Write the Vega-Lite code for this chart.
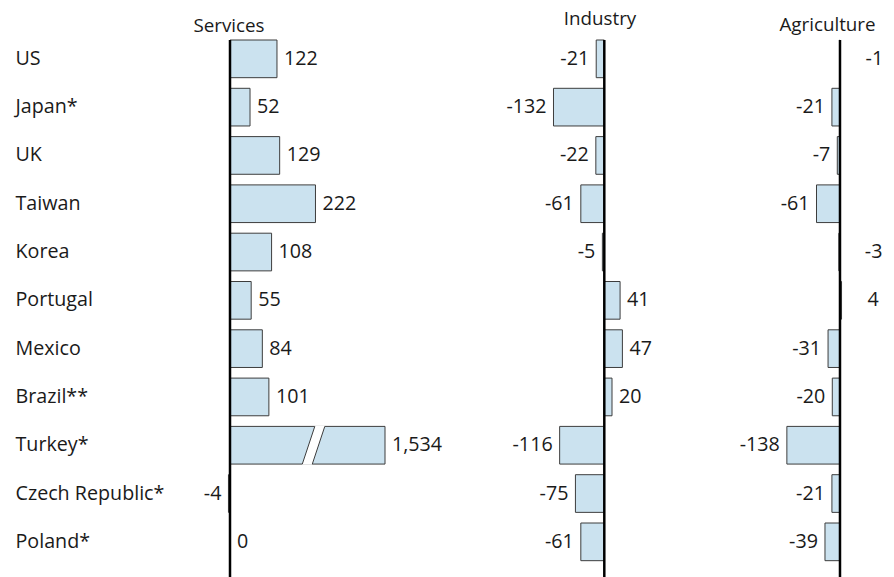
{
  "$schema": "https://vega.github.io/schema/vega-lite/v6.json",
  "padding": {"left": 15, "top": 9, "right": 0, "bottom": 0},
  "background": "white",
  "spacing": 0,
  "bounds": "flush",
  "data": {"values": [
    {"country": "US", "sector": "Services", "value": 122},
    {"country": "Japan*", "sector": "Services", "value": 52},
    {"country": "UK", "sector": "Services", "value": 129},
    {"country": "Taiwan", "sector": "Services", "value": 222},
    {"country": "Korea", "sector": "Services", "value": 108},
    {"country": "Portugal", "sector": "Services", "value": 55},
    {"country": "Mexico", "sector": "Services", "value": 84},
    {"country": "Brazil**", "sector": "Services", "value": 101},
    {"country": "Turkey*", "sector": "Services", "value": 1534},
    {"country": "Czech Republic*", "sector": "Services", "value": -4},
    {"country": "Poland*", "sector": "Services", "value": 0},
    {"country": "US", "sector": "Industry", "value": -21},
    {"country": "Japan*", "sector": "Industry", "value": -132},
    {"country": "UK", "sector": "Industry", "value": -22},
    {"country": "Taiwan", "sector": "Industry", "value": -61},
    {"country": "Korea", "sector": "Industry", "value": -5},
    {"country": "Portugal", "sector": "Industry", "value": 41},
    {"country": "Mexico", "sector": "Industry", "value": 47},
    {"country": "Brazil**", "sector": "Industry", "value": 20},
    {"country": "Turkey*", "sector": "Industry", "value": -116},
    {"country": "Czech Republic*", "sector": "Industry", "value": -75},
    {"country": "Poland*", "sector": "Industry", "value": -61},
    {"country": "US", "sector": "Agriculture", "value": -1},
    {"country": "Japan*", "sector": "Agriculture", "value": -21},
    {"country": "UK", "sector": "Agriculture", "value": -7},
    {"country": "Taiwan", "sector": "Agriculture", "value": -61},
    {"country": "Korea", "sector": "Agriculture", "value": -3},
    {"country": "Portugal", "sector": "Agriculture", "value": 4},
    {"country": "Mexico", "sector": "Agriculture", "value": -31},
    {"country": "Brazil**", "sector": "Agriculture", "value": -20},
    {"country": "Turkey*", "sector": "Agriculture", "value": -138},
    {"country": "Czech Republic*", "sector": "Agriculture", "value": -21},
    {"country": "Poland*", "sector": "Agriculture", "value": -39}
  ]},
  "hconcat": [
    {
      "width": 290,
      "height": 537,
      "transform": [{"filter": "datum.sector === 'Services'"}],
      "layer": [
        {
          "mark": {"type": "bar", "fill": "#cbe2ef", "stroke": "#3d3d3d", "strokeWidth": 1},
          "encoding": {
            "y": {"field": "country", "type": "nominal", "sort": ["US","Japan*","UK","Taiwan","Korea","Portugal","Mexico","Brazil**","Turkey*","Czech Republic*","Poland*"], "scale": {"paddingInner": 0.22, "paddingOuter": 0.169, "align": 0, "round": false}, "axis": {"orient": "left", "labelAlign": "left", "labelBaseline": "middle", "labelPadding": 175, "labelFontSize": 19.7, "labelColor": "#1a1a1a", "labelLimit": 0, "domain": false, "ticks": false, "grid": false, "title": null}},
            "x": {"field": "value", "type": "quantitative", "scale": {"domain": [-103.9, 402.6], "range": [0, 195], "clamp": true, "nice": false}, "axis": {"orient": "top", "title": "Services", "labels": false, "ticks": false, "domain": false, "grid": false, "titleX": 38.5, "titleY": -8.5, "titleAlign": "center", "titleBaseline": "alphabetic", "titleFontSize": 18.8, "titleFontWeight": "normal", "titleColor": "#1a1a1a"}},
            "x2": {"datum": 0}
          }
        },
        {
          "data": {"values": [{"country": "Turkey*"}]},
          "mark": {"type": "point", "shape": "M 0.075 -0.98 L 0.575 -0.98 L -0.075 0.98 L -0.575 0.98 Z", "size": 1600, "filled": true, "fill": "white", "strokeWidth": 0, "opacity": 1},
          "encoding": {
            "y": {"field": "country", "type": "nominal", "sort": ["US","Japan*","UK","Taiwan","Korea","Portugal","Mexico","Brazil**","Turkey*","Czech Republic*","Poland*"], "scale": {"paddingInner": 0.22, "paddingOuter": 0.169, "align": 0, "round": false}, "axis": {"orient": "left", "labelAlign": "left", "labelBaseline": "middle", "labelPadding": 175, "labelFontSize": 19.7, "labelColor": "#1a1a1a", "labelLimit": 0, "domain": false, "ticks": false, "grid": false, "title": null}},
            "x": {"datum": 217, "type": "quantitative", "scale": {"domain": [-103.9, 402.6], "range": [0, 195], "clamp": true, "nice": false}, "axis": {"orient": "top", "title": "Services", "labels": false, "ticks": false, "domain": false, "grid": false, "titleX": 38.5, "titleY": -8.5, "titleAlign": "center", "titleBaseline": "alphabetic", "titleFontSize": 18.8, "titleFontWeight": "normal", "titleColor": "#1a1a1a"}}
          }
        },
        {
          "data": {"values": [{"country": "Turkey*"}]},
          "mark": {"type": "point", "shape": "M 0.063 -0.943 L -0.563 0.943 M 0.563 -0.943 L -0.063 0.943", "size": 1600, "filled": false, "stroke": "#3d3d3d", "strokeWidth": 1, "opacity": 1},
          "encoding": {
            "y": {"field": "country", "type": "nominal", "sort": ["US","Japan*","UK","Taiwan","Korea","Portugal","Mexico","Brazil**","Turkey*","Czech Republic*","Poland*"], "scale": {"paddingInner": 0.22, "paddingOuter": 0.169, "align": 0, "round": false}, "axis": {"orient": "left", "labelAlign": "left", "labelBaseline": "middle", "labelPadding": 175, "labelFontSize": 19.7, "labelColor": "#1a1a1a", "labelLimit": 0, "domain": false, "ticks": false, "grid": false, "title": null}},
            "x": {"datum": 217, "type": "quantitative", "scale": {"domain": [-103.9, 402.6], "range": [0, 195], "clamp": true, "nice": false}, "axis": {"orient": "top", "title": "Services", "labels": false, "ticks": false, "domain": false, "grid": false, "titleX": 38.5, "titleY": -8.5, "titleAlign": "center", "titleBaseline": "alphabetic", "titleFontSize": 18.8, "titleFontWeight": "normal", "titleColor": "#1a1a1a"}}
          }
        },
        {
          "data": {"values": [{}]},
          "mark": {"type": "rule", "stroke": "black", "strokeWidth": 2.5},
          "encoding": {
            "x": {"datum": 0, "type": "quantitative", "scale": {"domain": [-103.9, 402.6], "range": [0, 195], "clamp": true, "nice": false}, "axis": {"orient": "top", "title": "Services", "labels": false, "ticks": false, "domain": false, "grid": false, "titleX": 38.5, "titleY": -8.5, "titleAlign": "center", "titleBaseline": "alphabetic", "titleFontSize": 18.8, "titleFontWeight": "normal", "titleColor": "#1a1a1a"}}
          }
        },
        {
          "transform": [{"filter": "datum.value >= 0"}],
          "mark": {"type": "text", "align": "left", "baseline": "middle", "dx": 7, "fontSize": 19.7, "color": "#1a1a1a"},
          "encoding": {
            "y": {"field": "country", "type": "nominal", "sort": ["US","Japan*","UK","Taiwan","Korea","Portugal","Mexico","Brazil**","Turkey*","Czech Republic*","Poland*"], "scale": {"paddingInner": 0.22, "paddingOuter": 0.169, "align": 0, "round": false}, "axis": {"orient": "left", "labelAlign": "left", "labelBaseline": "middle", "labelPadding": 175, "labelFontSize": 19.7, "labelColor": "#1a1a1a", "labelLimit": 0, "domain": false, "ticks": false, "grid": false, "title": null}},
            "x": {"field": "value", "type": "quantitative", "scale": {"domain": [-103.9, 402.6], "range": [0, 195], "clamp": true, "nice": false}, "axis": {"orient": "top", "title": "Services", "labels": false, "ticks": false, "domain": false, "grid": false, "titleX": 38.5, "titleY": -8.5, "titleAlign": "center", "titleBaseline": "alphabetic", "titleFontSize": 18.8, "titleFontWeight": "normal", "titleColor": "#1a1a1a"}},
            "text": {"field": "value", "type": "quantitative", "format": ",d"}
          }
        },
        {
          "transform": [{"filter": "datum.value < 0"}],
          "mark": {"type": "text", "align": "right", "baseline": "middle", "dx": -7, "fontSize": 19.7, "color": "#1a1a1a"},
          "encoding": {
            "y": {"field": "country", "type": "nominal", "sort": ["US","Japan*","UK","Taiwan","Korea","Portugal","Mexico","Brazil**","Turkey*","Czech Republic*","Poland*"], "scale": {"paddingInner": 0.22, "paddingOuter": 0.169, "align": 0, "round": false}, "axis": {"orient": "left", "labelAlign": "left", "labelBaseline": "middle", "labelPadding": 175, "labelFontSize": 19.7, "labelColor": "#1a1a1a", "labelLimit": 0, "domain": false, "ticks": false, "grid": false, "title": null}},
            "x": {"field": "value", "type": "quantitative", "scale": {"domain": [-103.9, 402.6], "range": [0, 195], "clamp": true, "nice": false}, "axis": {"orient": "top", "title": "Services", "labels": false, "ticks": false, "domain": false, "grid": false, "titleX": 38.5, "titleY": -8.5, "titleAlign": "center", "titleBaseline": "alphabetic", "titleFontSize": 18.8, "titleFontWeight": "normal", "titleColor": "#1a1a1a"}},
            "text": {"field": "value", "type": "quantitative", "format": ",d"}
          }
        }
      ]
    },
    {
      "width": 220,
      "height": 537,
      "transform": [{"filter": "datum.sector === 'Industry'"}],
      "layer": [
        {
          "mark": {"type": "bar", "fill": "#cbe2ef", "stroke": "#3d3d3d", "strokeWidth": 1},
          "encoding": {
            "y": {"field": "country", "type": "nominal", "sort": ["US","Japan*","UK","Taiwan","Korea","Portugal","Mexico","Brazil**","Turkey*","Czech Republic*","Poland*"], "scale": {"paddingInner": 0.22, "paddingOuter": 0.169, "align": 0, "round": false}, "axis": null},
            "x": {"field": "value", "type": "quantitative", "scale": {"domain": [-322.9, 248.6], "nice": false}, "axis": {"orient": "top", "title": "Industry", "labels": false, "ticks": false, "domain": false, "grid": false, "titleX": 119.5, "titleY": -16, "titleAlign": "center", "titleBaseline": "alphabetic", "titleFontSize": 18.8, "titleFontWeight": "normal", "titleColor": "#1a1a1a"}},
            "x2": {"datum": 0}
          }
        },
        {
          "data": {"values": [{}]},
          "mark": {"type": "rule", "stroke": "black", "strokeWidth": 2.5},
          "encoding": {
            "x": {"datum": 0, "type": "quantitative", "scale": {"domain": [-322.9, 248.6], "nice": false}, "axis": {"orient": "top", "title": "Industry", "labels": false, "ticks": false, "domain": false, "grid": false, "titleX": 119.5, "titleY": -16, "titleAlign": "center", "titleBaseline": "alphabetic", "titleFontSize": 18.8, "titleFontWeight": "normal", "titleColor": "#1a1a1a"}}
          }
        },
        {
          "transform": [{"filter": "datum.value >= 0"}],
          "mark": {"type": "text", "align": "left", "baseline": "middle", "dx": 7, "fontSize": 19.7, "color": "#1a1a1a"},
          "encoding": {
            "y": {"field": "country", "type": "nominal", "sort": ["US","Japan*","UK","Taiwan","Korea","Portugal","Mexico","Brazil**","Turkey*","Czech Republic*","Poland*"], "scale": {"paddingInner": 0.22, "paddingOuter": 0.169, "align": 0, "round": false}, "axis": null},
            "x": {"field": "value", "type": "quantitative", "scale": {"domain": [-322.9, 248.6], "nice": false}, "axis": {"orient": "top", "title": "Industry", "labels": false, "ticks": false, "domain": false, "grid": false, "titleX": 119.5, "titleY": -16, "titleAlign": "center", "titleBaseline": "alphabetic", "titleFontSize": 18.8, "titleFontWeight": "normal", "titleColor": "#1a1a1a"}},
            "text": {"field": "value", "type": "quantitative", "format": ",d"}
          }
        },
        {
          "transform": [{"filter": "datum.value < 0"}],
          "mark": {"type": "text", "align": "right", "baseline": "middle", "dx": -7, "fontSize": 19.7, "color": "#1a1a1a"},
          "encoding": {
            "y": {"field": "country", "type": "nominal", "sort": ["US","Japan*","UK","Taiwan","Korea","Portugal","Mexico","Brazil**","Turkey*","Czech Republic*","Poland*"], "scale": {"paddingInner": 0.22, "paddingOuter": 0.169, "align": 0, "round": false}, "axis": null},
            "x": {"field": "value", "type": "quantitative", "scale": {"domain": [-322.9, 248.6], "nice": false}, "axis": {"orient": "top", "title": "Industry", "labels": false, "ticks": false, "domain": false, "grid": false, "titleX": 119.5, "titleY": -16, "titleAlign": "center", "titleBaseline": "alphabetic", "titleFontSize": 18.8, "titleFontWeight": "normal", "titleColor": "#1a1a1a"}},
            "text": {"field": "value", "type": "quantitative", "format": ",d"}
          }
        }
      ]
    },
    {
      "width": 185,
      "height": 537,
      "transform": [{"filter": "datum.sector === 'Agriculture'"}],
      "layer": [
        {
          "mark": {"type": "bar", "fill": "#cbe2ef", "stroke": "#3d3d3d", "strokeWidth": 1},
          "encoding": {
            "y": {"field": "country", "type": "nominal", "sort": ["US","Japan*","UK","Taiwan","Korea","Portugal","Mexico","Brazil**","Turkey*","Czech Republic*","Poland*"], "scale": {"paddingInner": 0.22, "paddingOuter": 0.169, "align": 0, "round": false}, "axis": null},
            "x": {"field": "value", "type": "quantitative", "scale": {"domain": [-363.6, 116.9], "nice": false}, "axis": {"orient": "top", "title": "Agriculture", "labels": false, "ticks": false, "domain": false, "grid": false, "titleX": 127, "titleY": -10, "titleAlign": "center", "titleBaseline": "alphabetic", "titleFontSize": 18.8, "titleFontWeight": "normal", "titleColor": "#1a1a1a"}},
            "x2": {"datum": 0}
          }
        },
        {
          "data": {"values": [{}]},
          "mark": {"type": "rule", "stroke": "black", "strokeWidth": 2.5},
          "encoding": {
            "x": {"datum": 0, "type": "quantitative", "scale": {"domain": [-363.6, 116.9], "nice": false}, "axis": {"orient": "top", "title": "Agriculture", "labels": false, "ticks": false, "domain": false, "grid": false, "titleX": 127, "titleY": -10, "titleAlign": "center", "titleBaseline": "alphabetic", "titleFontSize": 18.8, "titleFontWeight": "normal", "titleColor": "#1a1a1a"}}
          }
        },
        {
          "transform": [{"filter": "datum.value >= 5"}],
          "mark": {"type": "text", "align": "left", "baseline": "middle", "dx": 7, "fontSize": 19.7, "color": "#1a1a1a"},
          "encoding": {
            "y": {"field": "country", "type": "nominal", "sort": ["US","Japan*","UK","Taiwan","Korea","Portugal","Mexico","Brazil**","Turkey*","Czech Republic*","Poland*"], "scale": {"paddingInner": 0.22, "paddingOuter": 0.169, "align": 0, "round": false}, "axis": null},
            "x": {"field": "value", "type": "quantitative", "scale": {"domain": [-363.6, 116.9], "nice": false}, "axis": {"orient": "top", "title": "Agriculture", "labels": false, "ticks": false, "domain": false, "grid": false, "titleX": 127, "titleY": -10, "titleAlign": "center", "titleBaseline": "alphabetic", "titleFontSize": 18.8, "titleFontWeight": "normal", "titleColor": "#1a1a1a"}},
            "text": {"field": "value", "type": "quantitative", "format": ",d"}
          }
        },
        {
          "transform": [{"filter": "datum.value <= -5"}],
          "mark": {"type": "text", "align": "right", "baseline": "middle", "dx": -7, "fontSize": 19.7, "color": "#1a1a1a"},
          "encoding": {
            "y": {"field": "country", "type": "nominal", "sort": ["US","Japan*","UK","Taiwan","Korea","Portugal","Mexico","Brazil**","Turkey*","Czech Republic*","Poland*"], "scale": {"paddingInner": 0.22, "paddingOuter": 0.169, "align": 0, "round": false}, "axis": null},
            "x": {"field": "value", "type": "quantitative", "scale": {"domain": [-363.6, 116.9], "nice": false}, "axis": {"orient": "top", "title": "Agriculture", "labels": false, "ticks": false, "domain": false, "grid": false, "titleX": 127, "titleY": -10, "titleAlign": "center", "titleBaseline": "alphabetic", "titleFontSize": 18.8, "titleFontWeight": "normal", "titleColor": "#1a1a1a"}},
            "text": {"field": "value", "type": "quantitative", "format": ",d"}
          }
        },
        {
          "transform": [{"filter": "abs(datum.value) < 5"}],
          "mark": {"type": "text", "align": "left", "baseline": "middle", "dx": 26, "fontSize": 19.7, "color": "#1a1a1a"},
          "encoding": {
            "y": {"field": "country", "type": "nominal", "sort": ["US","Japan*","UK","Taiwan","Korea","Portugal","Mexico","Brazil**","Turkey*","Czech Republic*","Poland*"], "scale": {"paddingInner": 0.22, "paddingOuter": 0.169, "align": 0, "round": false}, "axis": null},
            "x": {"field": "value", "type": "quantitative", "scale": {"domain": [-363.6, 116.9], "nice": false}, "axis": {"orient": "top", "title": "Agriculture", "labels": false, "ticks": false, "domain": false, "grid": false, "titleX": 127, "titleY": -10, "titleAlign": "center", "titleBaseline": "alphabetic", "titleFontSize": 18.8, "titleFontWeight": "normal", "titleColor": "#1a1a1a"}},
            "text": {"field": "value", "type": "quantitative", "format": ",d"}
          }
        }
      ]
    }
  ],
  "config": {
    "view": {"stroke": null},
    "font": "Open Sans",
    "locale": {"number": {"decimal": ".", "thousands": ",", "grouping": [3], "currency": ["$", ""], "minus": "-"}}
  }
}
